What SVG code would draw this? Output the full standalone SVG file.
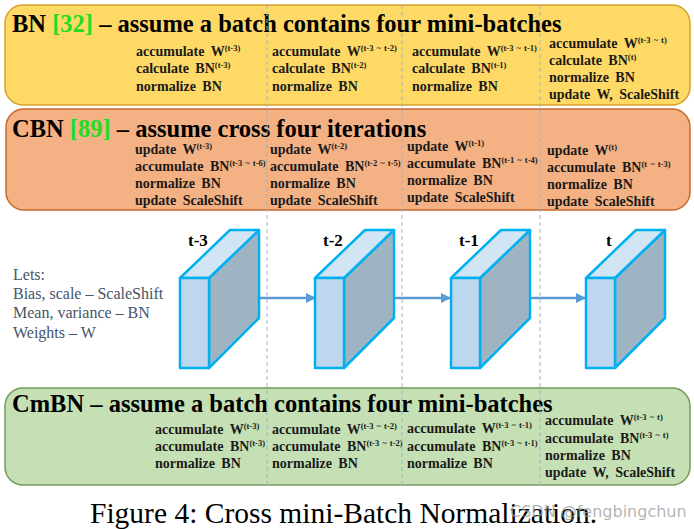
<svg xmlns="http://www.w3.org/2000/svg" width="694" height="529" viewBox="0 0 694 529">
<defs>
<style>
.title{font-family:"Liberation Serif",serif;font-weight:bold;font-size:24.5px;fill:#000}
.ref{fill:#22DD22}
.t{font-family:"Liberation Serif",serif;font-weight:bold;font-size:14px;fill:#1a1a1a;word-spacing:3px}
.sup{font-size:8.5px;word-spacing:1px}
.leg{font-family:"Liberation Serif",serif;font-size:16px;fill:#44546A}
.lbl{font-family:"Liberation Serif",serif;font-weight:bold;font-size:17px;fill:#000}
.front{fill:#BDD7EE;stroke:#00B0F0;stroke-width:2.5;stroke-linejoin:round}
.top{fill:#D2E5F5;stroke:#00B0F0;stroke-width:2.5;stroke-linejoin:round}
.side{fill:#9FB4C2;stroke:#00B0F0;stroke-width:2.5;stroke-linejoin:round}
.arr{stroke:#5B9BD5;stroke-width:2.5;fill:none;marker-end:url(#ah)}
.dash{stroke:#9DB4C8;stroke-width:1;stroke-dasharray:4 3}
</style>
<marker id="ah" viewBox="0 0 10 10" refX="9" refY="5" markerWidth="4" markerHeight="4" orient="auto" markerUnits="strokeWidth">
<path d="M0,0 L10,5 L0,10 z" fill="#5B9BD5"/>
</marker>
<g id="cube">
<polygon class="side" points="29,48 79,0 79,88 29,138"/>
<polygon class="top" points="0,48 50,0 79,0 29,48"/>
<rect class="front" x="0" y="48" width="29" height="90"/>
</g>
</defs>
<rect width="694" height="529" fill="#fff"/>

<g id="bn">
<rect x="5" y="5" width="685" height="100" rx="18" fill="#FFD966" stroke="#D4A32A" stroke-width="1.5"/>
<text class="title" x="12" y="32">BN <tspan class="ref">[32]</tspan> – assume a batch contains four mini-batches</text>
<text class="t" x="136" y="56">accumulate W<tspan class="sup" dy="-5">(t-3)</tspan></text>
<text class="t" x="136" y="73">calculate BN<tspan class="sup" dy="-5">(t-3)</tspan></text>
<text class="t" x="136" y="91">normalize BN</text>
<text class="t" x="272" y="56">accumulate W<tspan class="sup" dy="-5">(t-3 ~ t-2)</tspan></text>
<text class="t" x="272" y="73">calculate BN<tspan class="sup" dy="-5">(t-2)</tspan></text>
<text class="t" x="272" y="91">normalize BN</text>
<text class="t" x="412" y="56">accumulate W<tspan class="sup" dy="-5">(t-3 ~ t-1)</tspan></text>
<text class="t" x="412" y="73">calculate BN<tspan class="sup" dy="-5">(t-1)</tspan></text>
<text class="t" x="412" y="91">normalize BN</text>
<text class="t" x="549" y="48">accumulate W<tspan class="sup" dy="-5">(t-3 ~ t)</tspan></text>
<text class="t" x="549" y="65">calculate BN<tspan class="sup" dy="-5">(t)</tspan></text>
<text class="t" x="549" y="82">normalize BN</text>
<text class="t" x="549" y="99">update W, ScaleShift</text>
</g>

<g id="cbn">
<rect x="6" y="109" width="684" height="101" rx="18" fill="#F4B183" stroke="#C8692A" stroke-width="1.5"/>
<text class="title" x="12" y="137">CBN <tspan class="ref">[89]</tspan> – assume cross four iterations</text>
<text class="t" x="135" y="154">update W<tspan class="sup" dy="-5">(t-3)</tspan></text>
<text class="t" x="135" y="171">accumulate BN<tspan class="sup" dy="-5">(t-3 ~ t-6)</tspan></text>
<text class="t" x="135" y="188">normalize BN</text>
<text class="t" x="135" y="205">update ScaleShift</text>
<text class="t" x="270" y="154">update W<tspan class="sup" dy="-5">(t-2)</tspan></text>
<text class="t" x="270" y="171">accumulate BN<tspan class="sup" dy="-5">(t-2 ~ t-5)</tspan></text>
<text class="t" x="270" y="188">normalize BN</text>
<text class="t" x="270" y="205">update ScaleShift</text>
<text class="t" x="407" y="151">update W<tspan class="sup" dy="-5">(t-1)</tspan></text>
<text class="t" x="407" y="168">accumulate BN<tspan class="sup" dy="-5">(t-1 ~ t-4)</tspan></text>
<text class="t" x="407" y="185">normalize BN</text>
<text class="t" x="407" y="202">update ScaleShift</text>
<text class="t" x="547" y="155">update W<tspan class="sup" dy="-5">(t)</tspan></text>
<text class="t" x="547" y="172">accumulate BN<tspan class="sup" dy="-5">(t ~ t-3)</tspan></text>
<text class="t" x="547" y="189">normalize BN</text>
<text class="t" x="547" y="206">update ScaleShift</text>
</g>

<g id="legend">
<text class="leg" x="13" y="280">Lets:</text>
<text class="leg" x="13" y="299">Bias, scale – ScaleShift</text>
<text class="leg" x="13" y="318">Mean, variance – BN</text>
<text class="leg" x="13" y="338">Weights – W</text>
</g>

<g id="connectors">
<line class="arr" x1="221" y1="298" x2="315" y2="298"/>
<line class="arr" x1="376" y1="298" x2="450" y2="298"/>
<line class="arr" x1="512" y1="298" x2="585" y2="298"/>
</g>

<g id="cube-t3"><use href="#cube" x="180" y="230"/><text class="lbl" x="188" y="246">t-3</text></g>
<g id="cube-t2"><use href="#cube" x="315" y="230"/><text class="lbl" x="323" y="246">t-2</text></g>
<g id="cube-t1"><use href="#cube" x="451" y="230"/><text class="lbl" x="459" y="246">t-1</text></g>
<g id="cube-t"><use href="#cube" x="586" y="230"/><text class="lbl" x="606" y="246">t</text></g>

<g id="cmbn">
<rect x="5" y="388" width="685" height="97" rx="18" fill="#C5E0B4" stroke="#759A5E" stroke-width="1.5"/>
<text class="title" x="12" y="412">CmBN – assume a batch contains four mini-batches</text>
<text class="t" x="155" y="434">accumulate W<tspan class="sup" dy="-5">(t-3)</tspan></text>
<text class="t" x="155" y="451">accumulate BN<tspan class="sup" dy="-5">(t-3)</tspan></text>
<text class="t" x="155" y="468">normalize BN</text>
<text class="t" x="272" y="434">accumulate W<tspan class="sup" dy="-5">(t-3 ~ t-2)</tspan></text>
<text class="t" x="272" y="451">accumulate BN<tspan class="sup" dy="-5">(t-3 ~ t-2)</tspan></text>
<text class="t" x="272" y="468">normalize BN</text>
<text class="t" x="407" y="433">accumulate W<tspan class="sup" dy="-5">(t-3 ~ t-1)</tspan></text>
<text class="t" x="407" y="451">accumulate BN<tspan class="sup" dy="-5">(t-3 ~ t-1)</tspan></text>
<text class="t" x="407" y="468">normalize BN</text>
<text class="t" x="545" y="425">accumulate W<tspan class="sup" dy="-5">(t-3 ~ t)</tspan></text>
<text class="t" x="545" y="443">accumulate BN<tspan class="sup" dy="-5">(t-3 ~ t)</tspan></text>
<text class="t" x="545" y="460">normalize BN</text>
<text class="t" x="545" y="477">update W, ScaleShift</text>
</g>

<g id="dividers">
<line class="dash" x1="267" y1="5" x2="267" y2="487"/>
<line class="dash" x1="402" y1="5" x2="402" y2="487"/>
<line class="dash" x1="540" y1="5" x2="540" y2="487"/>
</g>

<text x="90" y="523" font-family="Liberation Serif, serif" font-size="29.5" fill="#000">Figure 4: Cross mini-Batch Normalization.</text>
<text x="510" y="517" font-family="DejaVu Sans, sans-serif" font-size="16" fill="#9a9a9a" fill-opacity="0.75">CSDN @fengbingchun</text>
</svg>
